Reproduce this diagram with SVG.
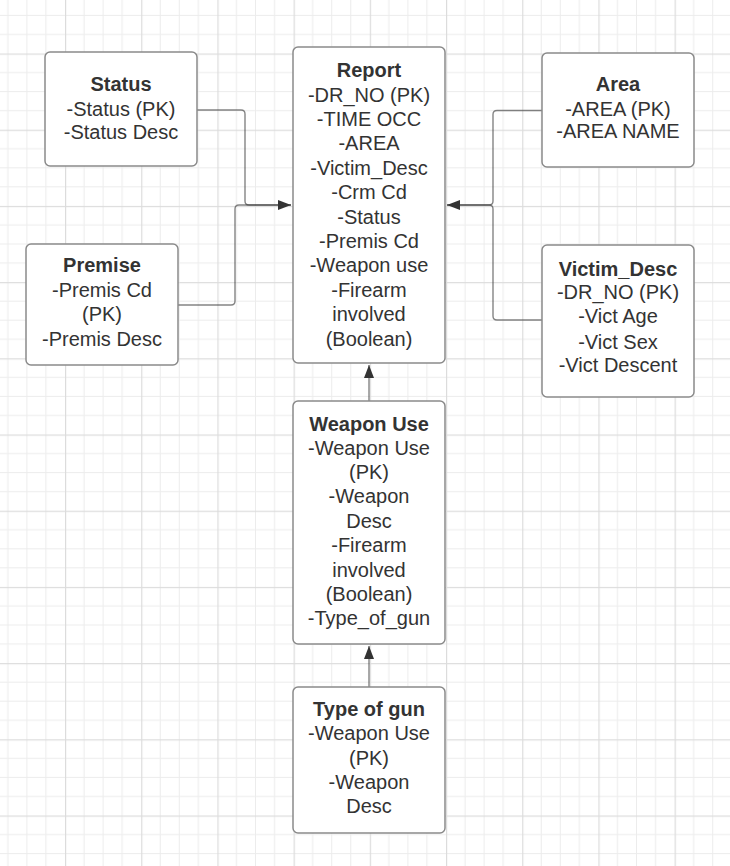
<svg xmlns="http://www.w3.org/2000/svg" width="730" height="866" viewBox="0 0 730 866">
<style>
.box{fill:#ffffff;stroke:#8a8a8a;stroke-width:1.5}
.t{font-family:"Liberation Sans",Arial,sans-serif;font-size:20px;fill:#333333;text-anchor:middle}
.b{font-weight:bold}
.con{fill:none;stroke:#333333;stroke-opacity:0.6;stroke-width:1.4}
</style>
<defs>
<pattern id="grid" patternUnits="userSpaceOnUse" x="65" y="53.5" width="76.2" height="76.2">
<rect x="18.55" y="0" width="1" height="76.2" fill="#ececec"/>
<rect x="37.6" y="0" width="1" height="76.2" fill="#ececec"/>
<rect x="56.65" y="0" width="1" height="76.2" fill="#ececec"/>
<rect x="0" y="18.55" width="76.2" height="1" fill="#ececec"/>
<rect x="0" y="37.6" width="76.2" height="1" fill="#ececec"/>
<rect x="0" y="56.65" width="76.2" height="1" fill="#ececec"/>
<rect x="0" y="0" width="1.2" height="76.2" fill="#dcdcdc"/>
<rect x="0" y="0" width="76.2" height="1.2" fill="#dcdcdc"/>
</pattern>
<marker id="arr" markerUnits="userSpaceOnUse" markerWidth="14" markerHeight="12" viewBox="0 0 14 12" refX="13" refY="6" orient="auto">
<path d="M0,1 L13,6 L0,11 Z" fill="#333333"/>
</marker>
</defs>
<rect width="730" height="866" fill="#ffffff"/>
<rect width="730" height="866" fill="url(#grid)"/>

<g id="connectors">
<path class="con" d="M197,110 H241 Q245,110 245,114 V201 Q245,205 249,205 H291" marker-end="url(#arr)"/>
<path class="con" d="M178,305 H231 Q235,305 235,301 V209 Q235,205 239,205 H291"/>
<path class="con" d="M542,110.5 H497 Q493,110.5 493,114.5 V201 Q493,205 489,205 H447" marker-end="url(#arr)"/>
<path class="con" d="M542,320 H497 Q493,320 493,316 V209 Q493,205 489,205 H447"/>
<path class="con" d="M369,401 V365" marker-end="url(#arr)"/>
<path class="con" d="M369,687 V646" marker-end="url(#arr)"/>
</g>

<g id="status">
<rect class="box" x="45" y="52" width="152" height="114" rx="5"/>
<text class="t b" x="121" y="90.5">Status</text>
<text class="t" x="121" y="115.5">-Status (PK)</text>
<text class="t" x="121" y="138.5">-Status Desc</text>
</g>

<g id="premise">
<rect class="box" x="26" y="244" width="152" height="121" rx="5"/>
<text class="t b" x="102" y="272">Premise</text>
<text class="t" x="102" y="296.5">-Premis Cd</text>
<text class="t" x="102" y="321">(PK)</text>
<text class="t" x="102" y="345.5">-Premis Desc</text>
</g>

<g id="report">
<rect class="box" x="293" y="47" width="152" height="316" rx="5"/>
<text class="t b" x="369" y="77.2">Report</text>
<text class="t" x="369" y="101.6">-DR_NO (PK)</text>
<text class="t" x="369" y="126">-TIME OCC</text>
<text class="t" x="369" y="150.4">-AREA</text>
<text class="t" x="369" y="174.8">-Victim_Desc</text>
<text class="t" x="369" y="199.2">-Crm Cd</text>
<text class="t" x="369" y="223.6">-Status</text>
<text class="t" x="369" y="248">-Premis Cd</text>
<text class="t" x="369" y="272.4">-Weapon use</text>
<text class="t" x="369" y="296.8">-Firearm</text>
<text class="t" x="369" y="321.2">involved</text>
<text class="t" x="369" y="345.6">(Boolean)</text>
</g>

<g id="area">
<rect class="box" x="542" y="53" width="152" height="114" rx="5"/>
<text class="t b" x="618" y="90.5">Area</text>
<text class="t" x="618" y="115.5">-AREA (PK)</text>
<text class="t" x="618" y="138">-AREA NAME</text>
</g>

<g id="victim_desc">
<rect class="box" x="542" y="245" width="152" height="152" rx="5"/>
<text class="t b" x="618" y="275.5">Victim_Desc</text>
<text class="t" x="618" y="299">-DR_NO (PK)</text>
<text class="t" x="618" y="323.3">-Vict Age</text>
<text class="t" x="618" y="348.5">-Vict Sex</text>
<text class="t" x="618" y="372.2">-Vict Descent</text>
</g>

<g id="weapon_use">
<rect class="box" x="293" y="401" width="152" height="243" rx="5"/>
<text class="t b" x="369" y="430.5">Weapon Use</text>
<text class="t" x="369" y="454.5">-Weapon Use</text>
<text class="t" x="369" y="478.9">(PK)</text>
<text class="t" x="369" y="503.3">-Weapon</text>
<text class="t" x="369" y="527.7">Desc</text>
<text class="t" x="369" y="552.1">-Firearm</text>
<text class="t" x="369" y="576.5">involved</text>
<text class="t" x="369" y="600.9">(Boolean)</text>
<text class="t" x="369" y="625.3">-Type_of_gun</text>
</g>

<g id="type_of_gun">
<rect class="box" x="293" y="687" width="152" height="146" rx="5"/>
<text class="t b" x="369" y="715.5">Type of gun</text>
<text class="t" x="369" y="740">-Weapon Use</text>
<text class="t" x="369" y="764.5">(PK)</text>
<text class="t" x="369" y="789">-Weapon</text>
<text class="t" x="369" y="813.3">Desc</text>
</g>
</svg>
